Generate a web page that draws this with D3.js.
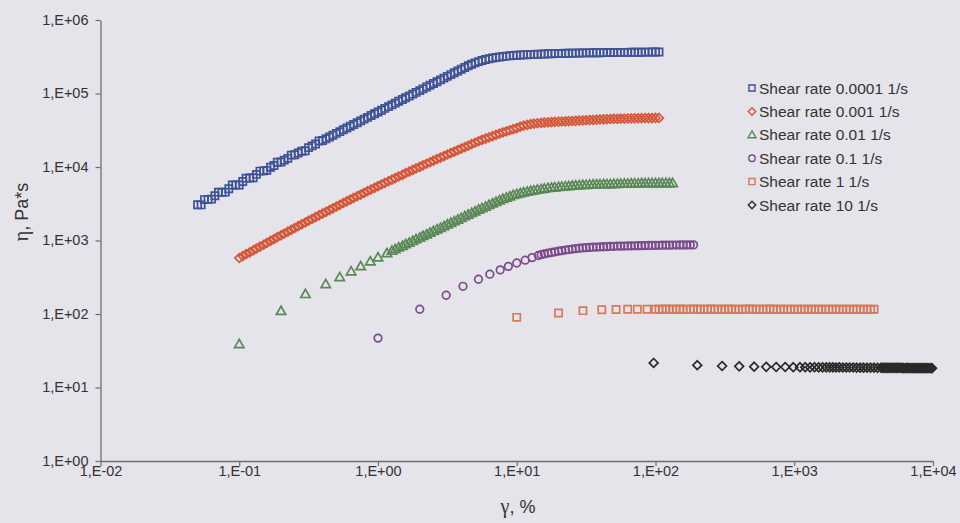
<!DOCTYPE html>
<html>
<head>
<meta charset="utf-8">
<script src="https://cdn.jsdelivr.net/npm/d3@7"></script>
<style>
  html, body { margin: 0; padding: 0; background: #e5e4ea; }
  svg { display: block; }
  text { font-family: "Liberation Sans", Arial, sans-serif; }
</style>
</head>
<body>
<svg id="chart" width="960" height="523"></svg>
<script>
// Axis ticks (log decades)
const xTickValues = [1e-2, 1e-1, 1e0, 1e1, 1e2, 1e3, 1e4];
const yTickValues = [1e0, 1e1, 1e2, 1e3, 1e4, 1e5, 1e6];

const legendLabels = [
  "Shear rate 0.0001 1/s",
  "Shear rate 0.001 1/s",
  "Shear rate 0.01 1/s",
  "Shear rate 0.1 1/s",
  "Shear rate 1 1/s",
  "Shear rate 10 1/s"
];

// [strain %, viscosity Pa*s]
const rate0001 = [
  [0.0501,3070],[0.0531,3050],[0.0562,3600],[0.0596,3630],[0.0631,3650],[0.0668,4060],[0.0708,4550],[0.0750,4540],
  [0.0794,4550],[0.0841,5070],[0.0891,5700],[0.0944,5680],[0.100,5700],[0.106,6340],[0.112,7050],[0.119,7100],
  [0.126,7150],[0.133,7930],[0.141,8800],[0.150,8870],[0.158,9000],[0.168,9910],[0.178,10500],[0.188,11600],
  [0.200,11720],[0.211,12390],[0.224,13120],[0.237,14500],[0.251,14660],[0.266,15490],[0.282,16410],[0.299,16600],
  [0.316,18320],[0.335,19360],[0.355,20510],[0.376,22600],[0.398,22910],[0.422,24210],[0.447,25650],[0.473,27100],
  [0.501,28640],[0.531,30270],[0.562,32060],[0.596,33880],[0.631,35810],[0.668,37840],[0.708,40090],[0.750,42360],
  [0.794,44770],[0.841,47320],[0.891,50120],[0.944,52970],[1.00,55980],[1.06,59160],[1.12,62660],[1.19,66220],
  [1.26,69980],[1.33,73960],[1.41,78340],[1.50,82790],[1.58,87500],[1.68,92470],[1.78,97950],[1.88,103500],
  [2.00,109400],[2.11,115600],[2.24,122500],[2.37,129400],[2.51,136800],[2.66,144500],[2.82,153100],[2.99,161800],
  [3.16,171000],[3.35,180700],[3.55,191400],[3.76,202300],[3.98,213800],[4.22,225900],[4.47,238200],[4.73,250000],
  [5.01,261200],[5.31,271600],[5.62,281200],[5.96,289700],[6.31,297200],[6.68,303400],[7.08,309000],[7.50,314100],
  [7.94,318400],[8.41,322100],[8.91,325800],[9.44,328900],[10.0,331900],[10.6,334200],[11.2,335700],[11.9,337300],
  [12.6,338800],[13.3,340400],[14.1,342000],[15.0,343600],[15.8,345100],[16.8,346700],[17.8,347500],[18.8,349100],
  [20.0,349900],[21.1,350700],[22.4,352400],[23.7,353200],[25.1,354000],[26.6,354800],[28.2,355600],[29.9,356500],
  [31.6,357300],[33.5,357300],[35.5,358100],[37.6,358900],[39.8,358900],[42.2,359700],[44.7,360600],[47.3,360600],
  [50.1,361400],[53.1,362200],[56.2,362200],[59.6,363100],[63.1,363100],[66.8,363900],[70.8,363900],[75.0,364800],
  [79.4,364800],[84.1,365600],[89.1,365600],[94.4,366400],[100,366400],[106,367300]
];

const rate001 = [
  [0.100,578],[0.106,614],[0.112,652],[0.119,690],[0.126,733],[0.133,778],[0.141,826],[0.150,875],
  [0.158,929],[0.168,986],[0.178,1047],[0.188,1109],[0.200,1175],[0.211,1245],[0.224,1318],[0.237,1396],
  [0.251,1479],[0.266,1567],[0.282,1660],[0.299,1758],[0.316,1862],[0.335,1968],[0.355,2080],[0.376,2198],
  [0.398,2323],[0.422,2455],[0.447,2594],[0.473,2742],[0.501,2897],[0.531,3062],[0.562,3236],[0.596,3412],
  [0.631,3597],[0.668,3793],[0.708,3999],[0.750,4217],[0.794,4446],[0.841,4688],[0.891,4943],[0.944,5212],
  [1.00,5495],[1.06,5781],[1.12,6081],[1.19,6397],[1.26,6730],[1.33,7079],[1.41,7447],[1.50,7834],
  [1.58,8241],[1.68,8670],[1.78,9120],[1.88,9572],[2.00,10050],[2.11,10540],[2.24,11070],[2.37,11610],
  [2.51,12190],[2.66,12790],[2.82,13430],[2.99,14090],[3.16,14790],[3.35,15490],[3.55,16220],[3.76,16980],
  [3.98,17780],[4.22,18620],[4.47,19500],[4.73,20420],[5.01,21380],[5.31,22390],[5.62,23440],[5.96,24380],
  [6.31,25290],[6.68,26300],[7.08,27350],[7.50,28380],[7.94,29510],[8.41,30550],[8.91,31620],[9.44,32730],
  [10.0,33880],[10.6,35320],[11.2,36480],[11.9,37410],[12.6,38190],[13.3,38810],[14.1,39360],[15.0,39810],
  [15.8,40270],[16.8,40550],[17.8,40830],[18.8,41110],[20.0,41400],[21.1,41590],[22.4,41780],[23.7,42070],
  [25.1,42270],[26.6,42460],[28.2,42760],[29.9,42950],[31.6,43250],[33.5,43450],[35.5,43750],[37.6,44060],
  [39.8,44360],[42.2,44570],[44.7,44770],[47.3,44980],[50.1,45190],[53.1,45290],[56.2,45390],[59.6,45500],
  [63.1,45710],[66.8,45810],[70.8,45920],[75.0,46030],[79.4,46130],[84.1,46240],[89.1,46240],[94.4,46340],
  [100,46450],[106,46560]
];

const rate01 = [
  [0.10,39],[0.20,110],[0.30,187],[0.42,255],[0.53,318],[0.64,380],[0.75,447],[0.88,520],[1.00,590],[1.16,675],
  [1.26,725],[1.33,764],[1.41,804],[1.50,847],[1.58,891],[1.68,938],[1.78,989],[1.88,1040],
  [2.00,1094],[2.11,1153],[2.24,1213],[2.37,1279],[2.51,1346],[2.66,1416],[2.82,1489],[2.99,1570],
  [3.16,1652],[3.35,1742],[3.55,1832],[3.76,1928],[3.98,2032],[4.22,2138],[4.47,2249],[4.73,2371],
  [5.01,2495],[5.31,2624],[5.62,2761],[5.96,2897],[6.31,3041],[6.68,3192],[7.08,3350],[7.50,3516],
  [7.94,3673],[8.41,3828],[8.91,3990],[9.44,4159],[10.0,4285],[10.6,4395],[11.2,4508],[11.9,4613],
  [12.6,4721],[13.3,4820],[14.1,4909],[15.0,5000],[15.8,5093],[16.8,5176],[17.8,5236],[18.8,5297],
  [20.0,5358],[21.1,5408],[22.4,5458],[23.7,5508],[25.1,5559],[26.6,5610],[28.2,5662],[29.9,5702],
  [31.6,5728],[33.5,5754],[35.5,5781],[37.6,5794],[39.8,5821],[42.2,5834],[44.7,5848],[47.3,5861],
  [50.1,5888],[53.1,5902],[56.2,5916],[59.6,5929],[63.1,5957],[66.8,5970],[70.8,5984],[75.0,5998],
  [79.4,6012],[84.1,6026],[89.1,6026],[94.4,6039],[100,6039],[106,6053],[112,6053],[119,6053],
  [126,6053],[133,6053]
];

const rate1 = [
  [1.00,47],[2.00,116],[3.10,180],[4.10,238],[5.30,297],[6.40,348],[7.60,398],[8.70,445],
  [10.0,494],[11.5,540],[12.9,585],[14.3,625],
  [15.0,643],[15.8,658],[16.8,673],[17.8,687],[18.8,701],[20.0,716],[21.1,729],[22.4,741],
  [23.7,753],[25.1,764],[26.6,774],[28.2,785],[29.9,793],[31.6,800],[33.5,805],[35.5,811],
  [37.6,815],[39.8,818],[42.2,822],[44.7,826],[47.3,830],[50.1,834],[53.1,836],[56.2,839],
  [59.6,841],[63.1,843],[66.8,845],[70.8,847],[75.0,849],[79.4,851],[84.1,853],[89.1,855],
  [94.4,857],[100,859],[106,861],[112,863],[119,865],[126,865],[133,867],[141,867],
  [150,869],[158,869],[168,869],[178,871],[188,871]
];

const rate10 = [
  [10,90],[20,103],[30,111],[41,114],[52,115],[63,116],[74,116],[87,116],[100,116],
  [106,116],[112,116],[119,117],[126,116],[133,116],[141,116],[150,117],[158,116],
  [168,116],[178,116],[188,117],[200,116],[211,116],[224,116],[237,116],[251,117],
  [266,116],[282,116],[299,116],[316,116],[335,117],[355,116],[376,116],[398,116],
  [422,116],[447,116],[473,117],[501,116],[531,116],[562,116],[596,116],[631,116],
  [668,117],[708,116],[750,116],[794,116],[841,116],[891,116],[944,116],[1000,116],
  [1060,116],[1120,116],[1190,116],[1260,116],[1330,116],[1410,116],[1500,116],[1580,116],
  [1680,116],[1780,116],[1880,116],[2000,116],[2110,116],[2240,116],[2370,116],[2510,116],
  [2660,116],[2820,116],[2990,116],[3160,116],[3350,116],[3550,116],[3760,116]
];

const rate100 = [
  [97,21.6],[200,20.1],[302,19.6],[401,19.4],[514,19.2],[628,19.1],[741,19.0],[861,19.0],[984,18.9],
  [1100,18.9],[1200,18.9],[1300,18.8],[1400,18.9],[1500,18.8],[1600,18.8],[1700,18.8],[1800,18.8],
  [1900,18.8],[2000,18.7],[2110,18.8],[2240,18.7],[2370,18.7],[2510,18.7],[2660,18.7],[2820,18.6],
  [2990,18.6],[3160,18.6],[3350,18.6],[3550,18.6],[3760,18.6],[3980,18.5],[4220,18.6],[4340,18.5],
  [4470,18.5],[4600,18.5],[4730,18.5],[4870,18.5],[5010,18.5],[5160,18.5],[5310,18.5],[5460,18.5],
  [5620,18.5],[5790,18.5],[5960,18.5],[6130,18.4],[6310,18.4],[6490,18.5],[6680,18.4],[6880,18.4],
  [7080,18.4],[7290,18.4],[7500,18.4],[7720,18.4],[7940,18.4],[8170,18.4],[8410,18.4],[8660,18.4],
  [8910,18.4],[9170,18.4],[9440,18.3],[9720,18.3],[9840,18.3]
];

const seriesData = [rate0001, rate001, rate01, rate1, rate10, rate100];
const seriesShapes = ["square", "diamond", "triangle", "circle", "square", "diamond"];
const seriesColors = ["#3f5296", "#d4573a", "#5a8856", "#7a4c8a", "#d6785a", "#2a2a2a"];

const series = seriesData.map((data, i) => ({
  label: legendLabels[i], data, shape: seriesShapes[i], color: seriesColors[i]
}));

const svg = d3.select("#chart");

const x = d3.scaleLog().domain([1e-2, 1e4]).range([100.5, 933]);
const y = d3.scaleLog().domain([1e0, 1e6]).range([461, 20]);

// "1,E+06" style labels
const sciLabel = v => {
  const e = Math.round(Math.log10(v));
  return "1,E" + (e < 0 ? "-" : "+") + String(Math.abs(e)).padStart(2, "0");
};

function markerPath(shape, k) {
  switch (shape) {
    case "square":
      return `M${-3.6*k},${-3.6*k}H${3.6*k}V${3.6*k}H${-3.6*k}Z`;
    case "diamond":
      return `M0,${-4.4*k}L${4.4*k},0L0,${4.4*k}L${-4.4*k},0Z`;
    case "triangle":
      return `M0,${-4.7*k}L${4.7*k},${3.5*k}L${-4.7*k},${3.5*k}Z`;
    case "circle": {
      const r = 3.8 * k;
      return `M${r},0A${r},${r} 0 1,1 ${-r},0A${r},${r} 0 1,1 ${r},0Z`;
    }
  }
}

// Axes
const axisColor = "#6e6e72";
const xAxis = svg.append("g")
  .attr("transform", `translate(0,${y(1)})`)
  .call(d3.axisBottom(x).tickValues(xTickValues).tickFormat(sciLabel).tickSize(5).tickSizeOuter(0));
const yAxis = svg.append("g")
  .attr("transform", `translate(${x(1e-2)},0)`)
  .call(d3.axisLeft(y).tickValues(yTickValues).tickFormat(sciLabel).tickSize(5).tickSizeOuter(0).tickPadding(7));

[xAxis, yAxis].forEach(g => {
  g.select(".domain").attr("stroke", axisColor).attr("stroke-width", 1.3);
  g.selectAll(".tick line").attr("stroke", axisColor).attr("stroke-width", 1.2);
  g.selectAll(".tick text")
    .attr("fill", "#333")
    .style("font-size", "14.5px")
    .style("font-family", '"Liberation Sans", Arial, sans-serif');
});
xAxis.selectAll(".tick text").attr("y", 5);
yAxis.selectAll(".tick text").attr("dy", "0.3em");

// Axis titles
const xTitle = svg.append("text")
  .attr("x", 518).attr("y", 513)
  .attr("text-anchor", "middle")
  .attr("fill", "#333")
  .style("font-size", "18px");
xTitle.append("tspan").style("font-family", '"Liberation Serif", "DejaVu Serif", serif').style("font-size", "20px").text("γ");
xTitle.append("tspan").text(", %");

const yTitle = svg.append("text")
  .attr("transform", "translate(28,212) rotate(-90)")
  .attr("text-anchor", "middle")
  .attr("fill", "#333")
  .style("font-size", "18px");
yTitle.append("tspan").style("font-family", '"Liberation Serif", "DejaVu Serif", serif').style("font-size", "20px").text("η");
yTitle.append("tspan").text(", Pa*s");

// Data markers
const plot = svg.append("g");
series.forEach(s => {
  plot.append("g")
    .selectAll("path")
    .data(s.data)
    .join("path")
    .attr("transform", d => `translate(${x(d[0])},${y(d[1])})`)
    .attr("d", markerPath(s.shape, 1))
    .attr("fill", "none")
    .attr("stroke", s.color)
    .attr("stroke-width", 1.7);
});

// Legend
const legend = svg.append("g").attr("transform", "translate(752,88)");
series.forEach((s, i) => {
  const row = legend.append("g").attr("transform", `translate(0,${i * 23.4})`);
  row.append("path")
    .attr("d", markerPath(s.shape, 0.85))
    .attr("fill", "none")
    .attr("stroke", s.color)
    .attr("stroke-width", 1.4);
  row.append("text")
    .attr("x", 7)
    .attr("dy", "0.36em")
    .attr("fill", "#333")
    .style("font-size", "15.5px")
    .text(s.label);
});
</script>
</body>
</html>
